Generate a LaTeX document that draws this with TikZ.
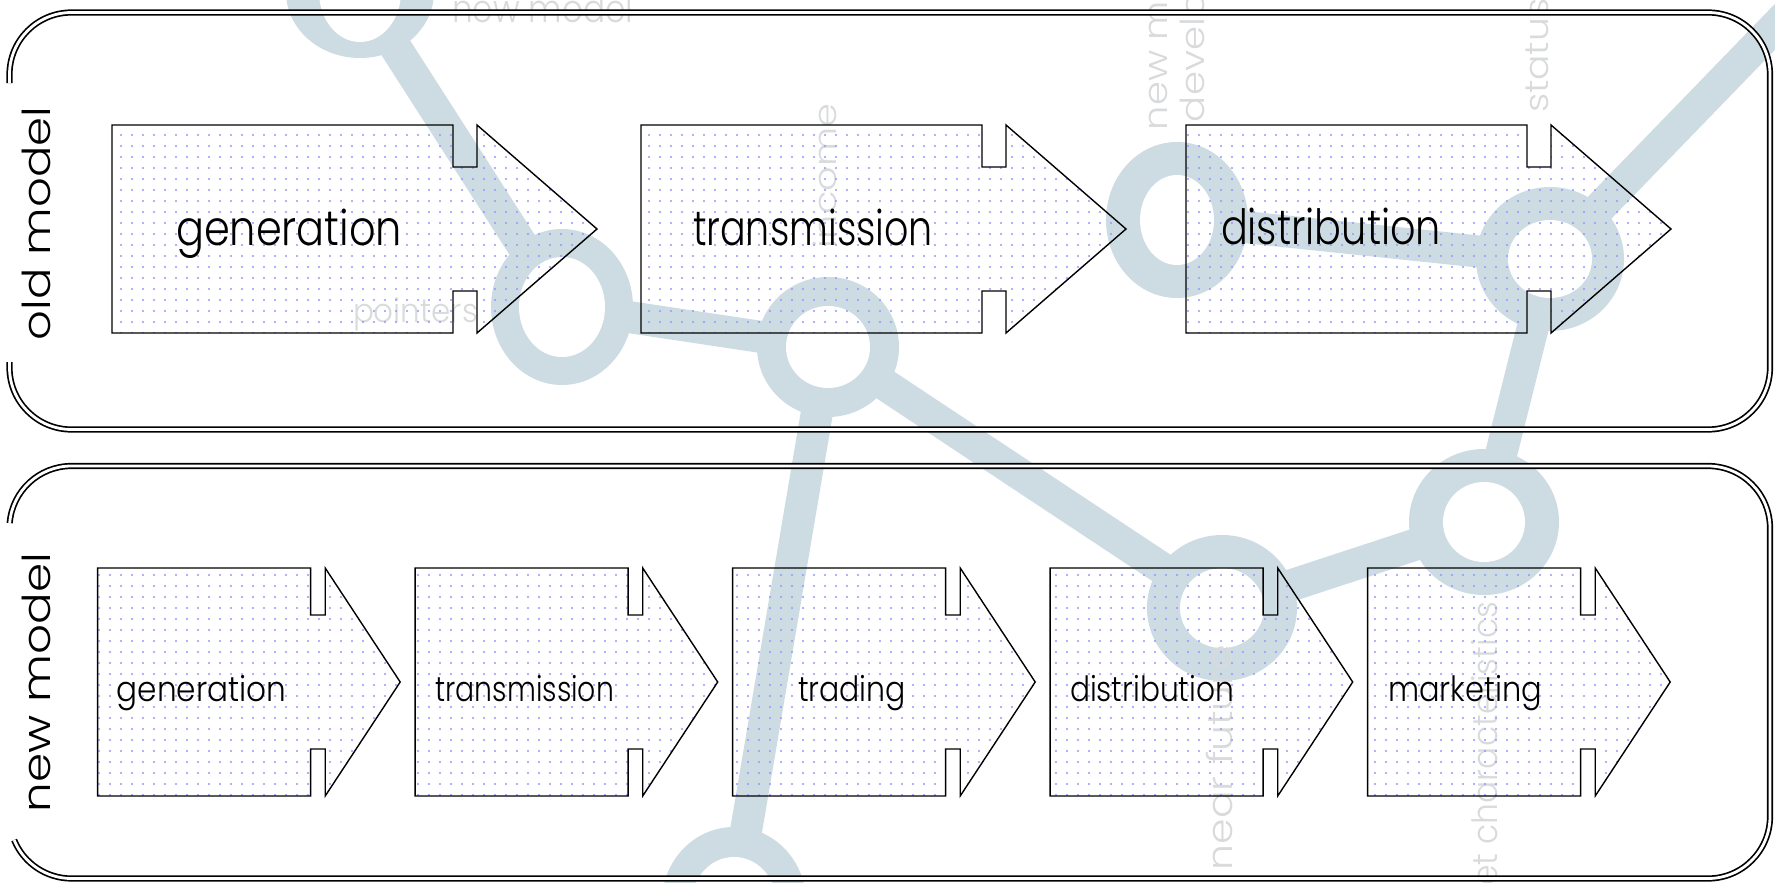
\documentclass[tikz,border=0pt]{standalone}
\usepackage{fontspec}
\setsansfont{Poppins Light}
\usepackage{graphicx}
\usetikzlibrary{patterns}
\definecolor{wmc}{RGB}{205,220,227}
\definecolor{wmt}{RGB}{216,218,220}
\definecolor{dotc}{RGB}{150,150,252}
\pgfdeclarepatternformonly{dotgrid}{\pgfpoint{-1.5pt}{-1.5pt}}{\pgfpoint{1.5pt}{1.5pt}}{\pgfpoint{11pt}{11pt}}{\pgfpathcircle{\pgfpointorigin}{1.2pt}\pgfusepath{fill}}
\newcommand{\ftxt}[3]{\resizebox{#1}{#2}{\sffamily\smash{#3}\rule{0pt}{1ex}}}
% name, left, top, body width, notch width, head length, height, notch depth
\newcommand{\chevbox}[8]{%
  \draw[boxshape] (#2,#3) coordinate (#1) -- ({#2+#4},#3) -- ({#2+#4},{#3+#8}) -- ({#2+#4+#5},{#3+#8}) -- ({#2+#4+#5},#3) -- ({#2+#4+#5+#6},{#3+#7/2}) -- ({#2+#4+#5},{#3+#7}) -- ({#2+#4+#5},{#3+#7-#8}) -- ({#2+#4},{#3+#7-#8}) -- ({#2+#4},{#3+#7}) -- (#2,{#3+#7}) -- cycle;}
\newcommand{\wring}[5]{\fill[wmc] (#1) ellipse [x radius=#2pt,y radius=#3pt]; \fill[white] (#1) ellipse [x radius=#4pt,y radius=#5pt];}
\begin{document}
\begin{tikzpicture}[x=1pt,y=-1pt,
  boxshape/.style={draw=black,line width=1.4pt,line join=miter,pattern=dotgrid,pattern color=dotc},
  frameline/.style={draw=black,line width=1.7pt,double=white,double distance=2.8pt},
  lbl/.style={inner sep=0pt,outer sep=0pt,anchor=base west},
  vlbl/.style={inner sep=0pt,outer sep=0pt,rotate=90,anchor=base},
  wmband/.style={draw=wmc,line width=32pt,line join=round},
  wmtxt/.style={text=wmt,inner sep=0pt,outer sep=0pt}]
\useasboundingbox (0,0) rectangle (1775,883);
\clip (0,0) rectangle (1775,883);
\fill[white] (0,0) rectangle (1775,883);
% ---- faint background network ----
\coordinate (w1) at (360,-8);
\coordinate (w2) at (562,307);
\coordinate (w3) at (828,347);
\coordinate (w4) at (1222,608);
\coordinate (w5) at (1484,522);
\coordinate (w6) at (1550,259);
\coordinate (w7) at (1177,220);
\coordinate (w8) at (734,902);
\coordinate (wout) at (1830,-30);
\draw[wmband] (w1) -- (w2) -- (w3) -- (w8);
\draw[wmband] (w3) -- (w4) -- (w5) -- (w6) -- (w7);
\draw[wmband] (w6) -- (wout);
\wring{w1}{74}{66}{41}{50}
\wring{w2}{71}{78}{43}{50}
\wring{w3}{71}{70}{42}{41}
\wring{w4}{75}{73}{42}{40}
\wring{w5}{75}{73}{41}{40}
\wring{w6}{74}{72}{42}{39}
\wring{w7}{71}{78}{37}{45}
\wring{w8}{72}{75}{42}{45}
\node[wmtxt,anchor=base west] (wt1) at (452,23) {\ftxt{181pt}{21pt}{new model}};
\node[wmtxt,anchor=base west] (wt2) at (353,322) {\ftxt{125pt}{18pt}{pointers}};
\node[wmtxt,rotate=90,anchor=base west] (wt3) at (836,248) {\ftxt{144pt}{17pt}{income}};
\node[wmtxt,rotate=90,anchor=base west] (wt4) at (1167,130) {\ftxt{225pt}{18pt}{new market}};
\node[wmtxt,rotate=90,anchor=base west] (wt5) at (1204,122) {\ftxt{257pt}{18pt}{development}};
\node[wmtxt,rotate=90,anchor=base west] (wt6) at (1548,113) {\ftxt{198pt}{18pt}{status quo}};
\node[wmtxt,rotate=90,anchor=base west] (wt7) at (1232,870) {\ftxt{225pt}{19pt}{near future}};
\node[wmtxt,rotate=90,anchor=base east] (wt8) at (1497,602) {\ftxt{367pt}{19pt}{market characteristics}};
% ---- frames ----
\draw[frameline] (9.5,362) -- (9.5,367.5) arc[start angle=180,end angle=270,radius=62pt]
  -- (1708,429.5) arc[start angle=270,end angle=360,radius=62pt]
  -- (1770,74.5) arc[start angle=0,end angle=90,radius=62pt]
  -- (71.5,12.5) arc[start angle=90,end angle=180,radius=62pt] -- (9.5,83);
\draw[frameline] (14.14,840.03) arc[start angle=202.3,end angle=270,radius=62pt]
  -- (1708,878.5) arc[start angle=270,end angle=360,radius=62pt]
  -- (1770,528) arc[start angle=0,end angle=90,radius=62pt]
  -- (71.5,466) arc[start angle=90,end angle=175.4,radius=62pt];
\node[vlbl] (lold) at (50,223.5) {\ftxt{233pt}{21pt}{old model}};
\node[vlbl] (lnew) at (50,682.5) {\ftxt{259pt}{21pt}{new model}};
% ---- old model chain ----
\chevbox{ob1}{112}{125}{341}{24}{120}{208}{42}
\chevbox{ob2}{641}{125}{341}{24}{120}{208}{42}
\chevbox{ob3}{1186}{125}{341}{24}{120}{208}{42}
\node[lbl] (og) at (176,245) {\ftxt{226pt}{26.5pt}{generation}};
\node[lbl] (ot) at (693,245) {\ftxt{240pt}{26.5pt}{transmission}};
\node[lbl] (od) at (1221,244) {\ftxt{220pt}{26.5pt}{distribution}};
% ---- new model chain ----
\chevbox{nb1}{97.6}{568}{213}{14.6}{75}{228}{47}
\chevbox{nb2}{415.1}{568}{213}{14.6}{75}{228}{47}
\chevbox{nb3}{732.6}{568}{213}{14.6}{75}{228}{47}
\chevbox{nb4}{1050.1}{568}{213}{14.6}{75}{228}{47}
\chevbox{nb5}{1367.6}{568}{213}{14.6}{75}{228}{47}
\node[lbl] (ng) at (116.7,701) {\ftxt{169.6pt}{19pt}{generation}};
\node[lbl] (nt) at (435.5,701) {\ftxt{178.5pt}{19pt}{transmission}};
\node[lbl] (nr) at (798,701) {\ftxt{108pt}{19pt}{trading}};
\node[lbl] (nd) at (1070,701) {\ftxt{164pt}{19pt}{distribution}};
\node[lbl] (nm) at (1388,701) {\ftxt{154pt}{19pt}{marketing}};
\end{tikzpicture}
\end{document}
